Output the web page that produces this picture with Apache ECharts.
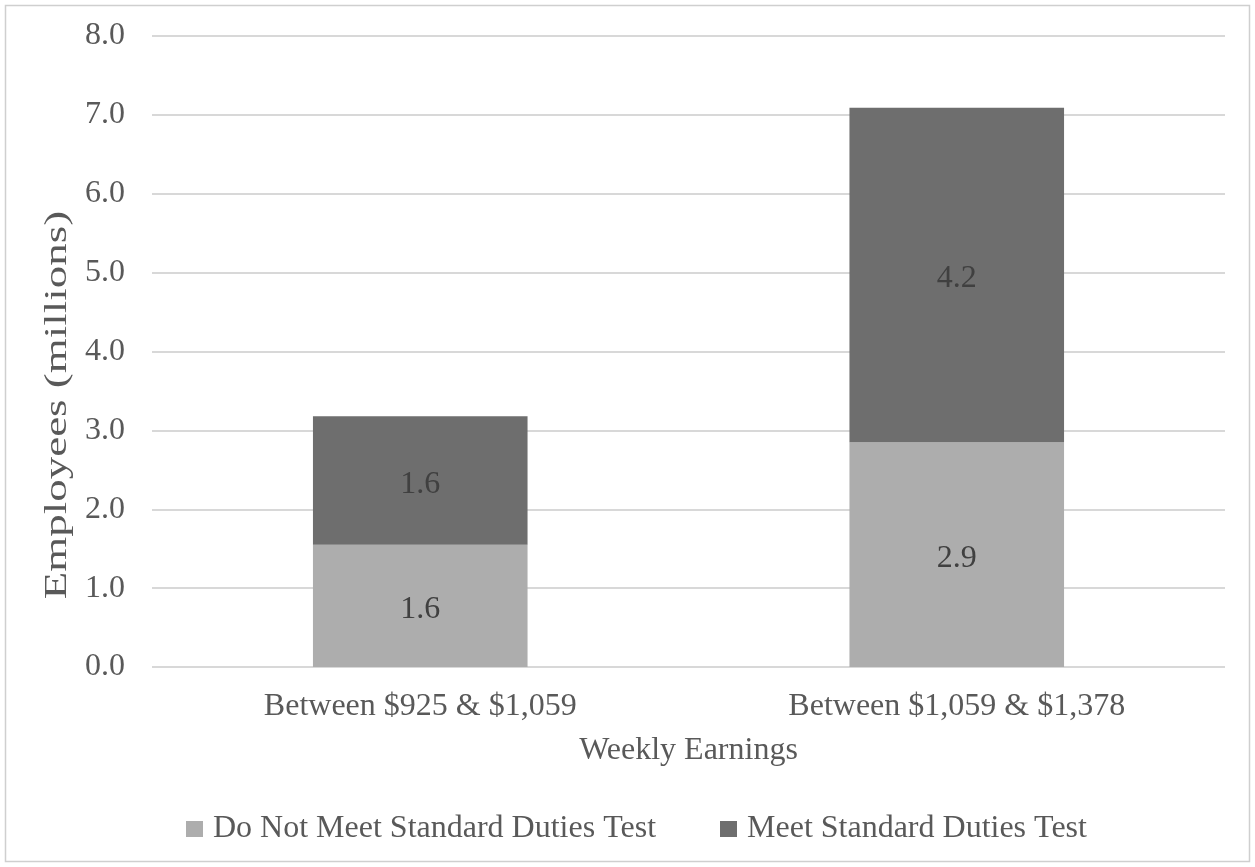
<!DOCTYPE html>
<html>
<head>
<meta charset="utf-8">
<title>Employees by Weekly Earnings</title>
<script src="https://cdn.jsdelivr.net/npm/echarts@6/dist/echarts.min.js"></script>
<style>
  html, body { margin: 0; padding: 0; background: #ffffff; }
  #chart { width: 1255px; height: 867px; }
</style>
</head>
<body>
<div id="chart"></div>
<script>
// Earnings bands on the category axis
const categories = ['Between $925 & $1,059', 'Between $1,059 & $1,378'];
// Employees in millions, stacked per band
const notMeetDuties = [1.55, 2.85];
const meetDuties = [1.63, 4.24];
const seriesNames = ['Do Not Meet Standard Duties Test', 'Meet Standard Duties Test'];
// Value axis ticks
const yMin = 0;
const yMax = 8;
const yStep = 1;
const yTitle = 'Employees (millions)';

const FONT = '"Liberation Serif", "Times New Roman", serif';
const AXIS_TEXT = '#595959';
const LIGHT = '#adadad';
const DARK = '#6e6e6e';

const chart = echarts.init(document.getElementById('chart'), null, { renderer: 'canvas' });

const segLabel = {
  show: true,
  position: 'inside',
  offset: [0, 4],
  fontFamily: FONT,
  fontSize: 32,
  color: '#404040',
  formatter: p => Number(p.value).toFixed(1)
};

chart.setOption({
  animation: false,
  backgroundColor: '#ffffff',
  textStyle: { fontFamily: FONT },
  graphic: [
    {
      type: 'rect',
      silent: true,
      shape: { x: 5.5, y: 5.5, width: 1244, height: 856 },
      style: { fill: 'none', stroke: '#cfcfcf', lineWidth: 1.5 }
    },
    {
      // vertical title of the value axis, drawn tall and narrow
      type: 'text',
      silent: true,
      x: 58,
      y: 405,
      rotation: Math.PI / 2,
      scaleX: 1.45,
      style: {
        text: yTitle,
        fontFamily: FONT,
        fontSize: 31,
        fill: AXIS_TEXT,
        align: 'center',
        verticalAlign: 'middle'
      }
    }
  ],
  grid: { left: 152, right: 30, top: 36, bottom: 200, containLabel: false },
  legend: {
    left: 181,
    top: 808,
    itemWidth: 17,
    itemHeight: 16,
    itemGap: 64,
    icon: 'rect',
    textStyle: { fontFamily: FONT, fontSize: 32, color: AXIS_TEXT, padding: [0, 0, 0, 5] },
    data: seriesNames
  },
  xAxis: {
    type: 'category',
    data: categories,
    name: 'Weekly Earnings',
    nameLocation: 'middle',
    nameGap: 68,
    nameTextStyle: { fontFamily: FONT, fontSize: 32, color: AXIS_TEXT },
    axisLine: { show: false },
    axisTick: { show: false },
    axisLabel: { fontFamily: FONT, fontSize: 32, color: AXIS_TEXT, margin: 24 }
  },
  yAxis: {
    type: 'value',
    min: yMin,
    max: yMax,
    interval: yStep,
    axisLine: { show: false },
    axisTick: { show: false },
    axisLabel: {
      fontFamily: FONT, fontSize: 32, color: AXIS_TEXT, margin: 27,
      formatter: v => v.toFixed(1)
    },
    splitLine: { show: true, lineStyle: { color: '#cbcbcb', width: 1.5 } }
  },
  series: [
    {
      name: seriesNames[0],
      type: 'bar',
      stack: 'total',
      data: notMeetDuties,
      barCategoryGap: '60%',
      itemStyle: { color: LIGHT },
      label: segLabel
    },
    {
      name: seriesNames[1],
      type: 'bar',
      stack: 'total',
      data: meetDuties,
      barCategoryGap: '60%',
      itemStyle: { color: DARK },
      label: segLabel
    }
  ]
});
</script>
</body>
</html>
